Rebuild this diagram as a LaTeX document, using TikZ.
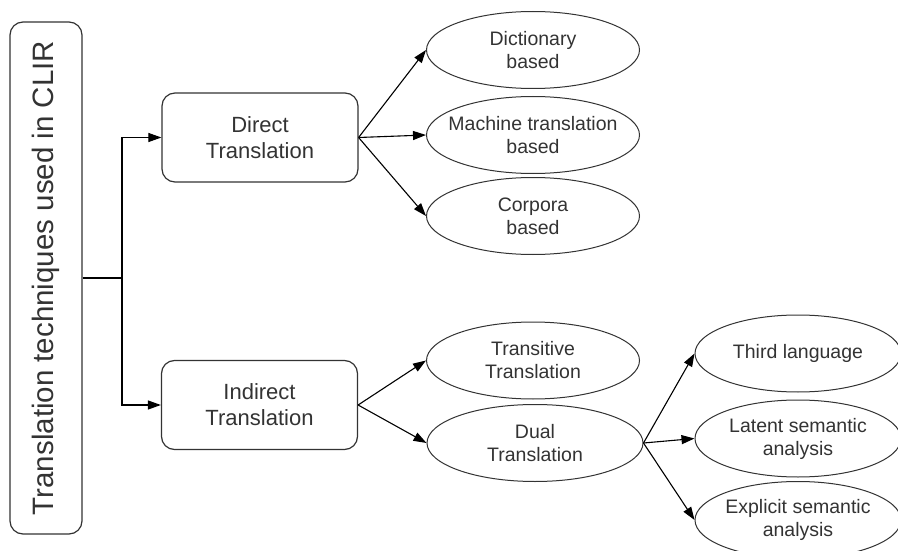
\documentclass[tikz,border=0pt]{standalone}
\usepackage{fontspec}
\setmainfont{Liberation Sans}
\usetikzlibrary{shapes.geometric,arrows.meta}
\definecolor{ink}{HTML}{333333}
\tikzset{
  base/.style={draw=ink, line width=1.2pt, fill=white, text=ink, align=center, inner sep=0pt},
  rootbox/.style={base, rounded corners=13pt, minimum width=72pt, minimum height=512pt},
  catbox/.style={base, rounded corners=13pt, minimum width=196pt, minimum height=89pt,
    font=\fontsize{22}{26}\selectfont},
  leaf/.style={base, ellipse, line width=1pt, inner xsep=-30pt, inner ysep=0pt,
    minimum width=213pt, minimum height=77pt,
    font=\fontsize{19.5}{23}\selectfont},
  link/.style={draw=black, line width=1.1pt, -{Triangle[length=13pt,width=9pt]}},
  tee/.style={draw=black, line width=1.1pt}
}
\begin{document}
\begin{tikzpicture}[x=1pt,y=-1pt]
\useasboundingbox (0,0) rectangle (898,551);
\clip (0,0) rectangle (898,551);

% root
\node[rootbox] (root) at (46,278) {};
\node[text=ink, rotate=90, font=\fontsize{29.5}{34}\selectfont] (roottxt) at (46,278)
  {Translation techniques used in CLIR};

% first level
\node[catbox] (direct) at (260,137.5) {Direct\\Translation};
\node[catbox] (indirect) at (259.5,405) {Indirect\\Translation};

% leaves of direct translation
\node[leaf] (dict) at (533,50) {Dictionary\\based};
\node[leaf] (mach) at (533,135) {Machine translation\\based};
\node[leaf] (corp) at (533,216) {Corpora\\based};

% leaves of indirect translation
\node[leaf] (trans) at (533,360.5) {Transitive\\Translation};
\node[leaf, minimum width=216pt] (dual) at (535,443) {Dual\\Translation};

% kinds of dual translation
\node[leaf, minimum width=206pt] (third) at (798,353.5) {Third language};
\node[leaf, minimum width=206pt] (latent) at (798,438.5) {Latent semantic\\analysis};
\node[leaf, minimum width=206pt] (expl) at (798,520) {Explicit semantic\\analysis};

% root split
\coordinate (split) at (122,278);
\draw[tee] (root.east |- split) -- (split);
\draw[link] (split) |- (direct.west);
\draw[link] (split) |- (indirect.west);

\draw[link] (direct.east) -- (dict.west);
\draw[link] (direct.east) -- (mach.west);
\draw[link] (direct.east) -- (corp.west);

\draw[link] (indirect.east) -- (trans.west);
\draw[link] (indirect.east) -- (dual.west);

\draw[link] (dual.east) -- (third.west);
\draw[link] (dual.east) -- (latent.west);
\draw[link] (dual.east) -- (expl.west);
\end{tikzpicture}
\end{document}
